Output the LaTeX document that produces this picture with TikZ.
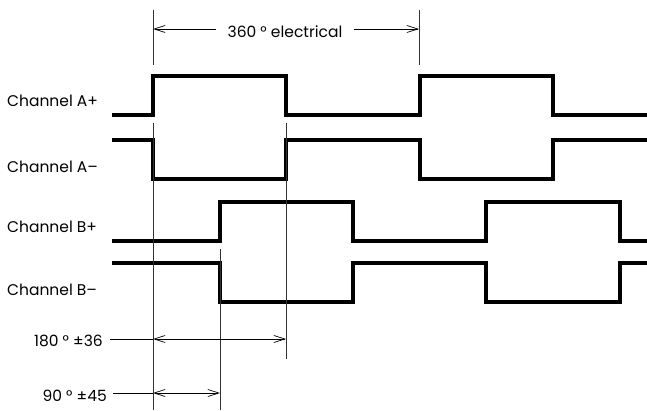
\documentclass[tikz,border=0pt]{standalone}
\usepackage{fontspec}
\setmainfont{Poppins}
\usetikzlibrary{arrows.meta}
\begin{document}
\begin{tikzpicture}[x=1pt, y=-1pt, font=\fontsize{15.5}{18}\selectfont, line join=miter,
  >={Straight Barb[length=11pt,width=7pt]},
  sig/.style={line width=3.8pt},
  guide/.style={line width=0.7pt, black!80},
  dim/.style={line width=0.7pt}]
  \useasboundingbox (0,0) rectangle (647,411);
  \def\xs{112} \def\xe{647}
  % square waves, A edges at 153/286/420/553, B a quarter later
  \draw[sig] (\xs,115) -| (153,76) -| (286,115) -| (420,76) -| (553,115) -- (\xe,115);
  \draw[sig] (\xs,140) -| (153,179) -| (286,140) -| (420,179) -| (553,140) -- (\xe,140);
  \draw[sig] (\xs,241) -| (220,202) -| (353,241) -| (486,202) -| (620,241) -- (\xe,241);
  \draw[sig] (\xs,263) -| (220,302) -| (353,263) -| (486,302) -| (620,263) -- (\xe,263);
  \foreach \y/\s [count=\i] in {107/A+, 173/A–, 233/B+, 295/B–}
    \node[anchor=base west, inner sep=0pt] (ch\i) at (7,\y) {Channel \s};
  % guide lines
  \draw[guide] (153,10) -- (153,65) (419,10) -- (419,65);
  \draw[guide] (153,123) -- (153,410) (286,123) -- (286,359) (220,249) -- (220,410);
  % 360 degrees
  \coordinate (l360) at (153,29); \coordinate (r360) at (419,29);
  \node[anchor=base, inner xsep=11pt] (el) at (285,38) {360 ° electrical};
  \draw[dim,->] (el.west |- l360) -- (l360);
  \draw[dim,->] (el.east |- r360) -- (r360);
  % 180 degrees
  \coordinate (p180) at (153,339); \coordinate (q180) at (286,339);
  \node[anchor=base east, inner xsep=7pt] (d180) at (110,346) {180 ° ±36};
  \draw[dim] (d180.east |- p180) -- (p180);
  \draw[dim,<->] (p180) -- (q180);
  % 90 degrees
  \coordinate (p90) at (153,393); \coordinate (q90) at (220,393);
  \node[anchor=base east, inner xsep=6pt] (d90) at (113,401) {90 ° ±45};
  \draw[dim] (d90.east |- p90) -- (p90);
  \draw[dim,<->] (p90) -- (q90);
\end{tikzpicture}
\end{document}
